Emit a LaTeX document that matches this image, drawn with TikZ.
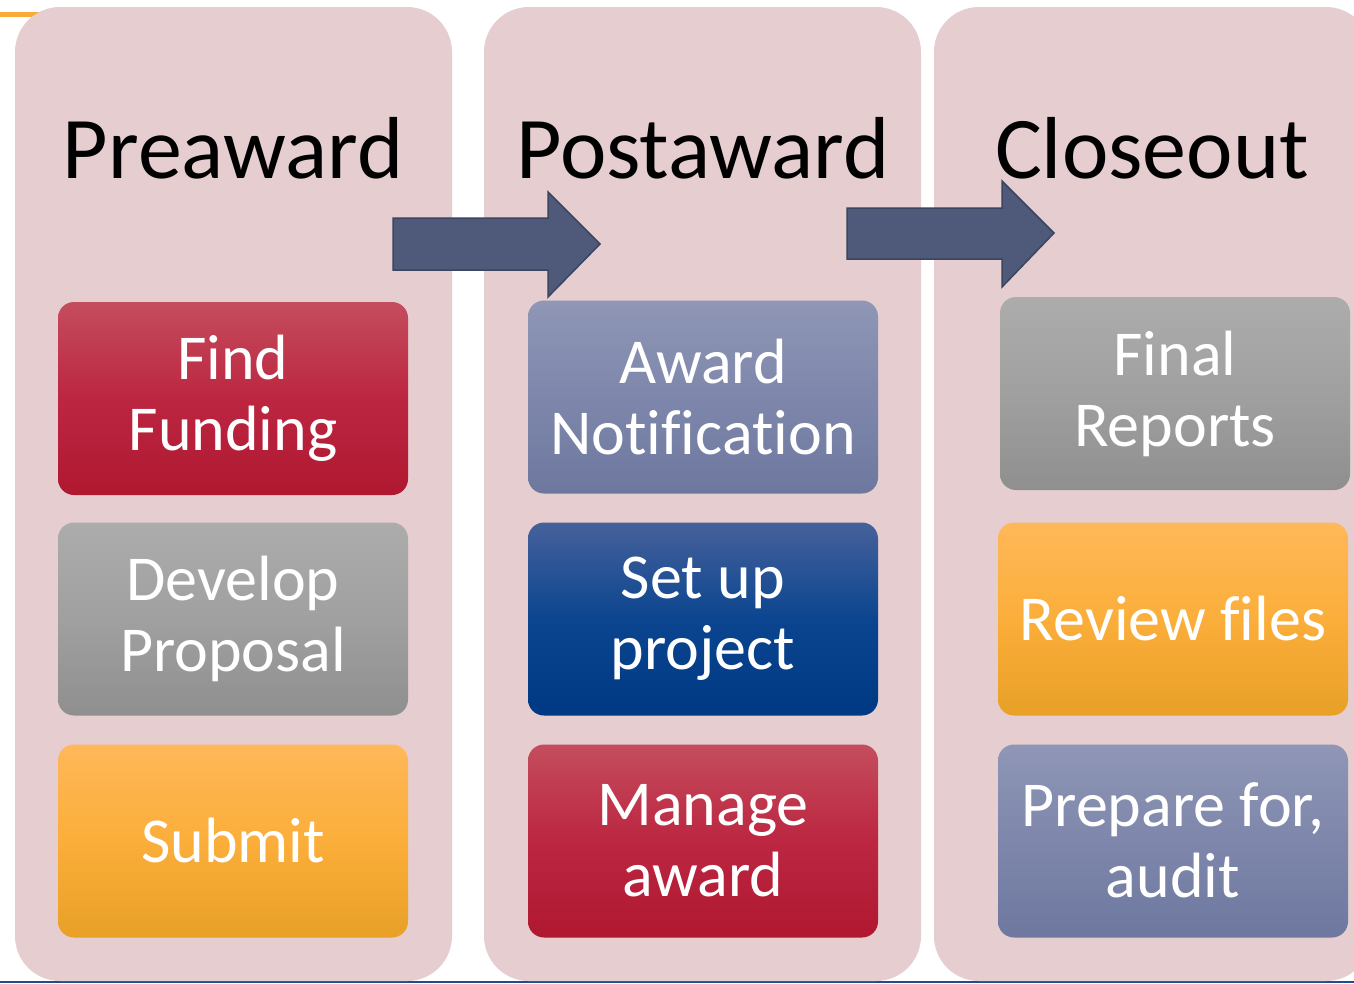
\documentclass[tikz,border=0pt]{standalone}
\usepackage{fontspec}
\setmainfont{Carlito}[Ligatures={NoCommon}]
\definecolor{panel}{HTML}{E5CDD0}
\definecolor{arrowfill}{HTML}{4F5A7A}
\definecolor{arrowline}{HTML}{3A4560}
\definecolor{redT}{HTML}{C44D5D}
\definecolor{redM}{HTML}{BC2641}
\definecolor{redB}{HTML}{B01830}
\definecolor{greyT}{HTML}{ACACAC}
\definecolor{greyM}{HTML}{A0A0A0}
\definecolor{greyB}{HTML}{8F8F8F}
\definecolor{orT}{HTML}{FFB85A}
\definecolor{orM}{HTML}{FBAE3A}
\definecolor{orB}{HTML}{E8A027}
\definecolor{slT}{HTML}{8F96B6}
\definecolor{slM}{HTML}{7E87AB}
\definecolor{slB}{HTML}{6E779E}
\definecolor{dbT}{HTML}{46619B}
\definecolor{dbM}{HTML}{0B458F}
\definecolor{dbB}{HTML}{003983}
\definecolor{topline}{HTML}{F9AC3A}
\definecolor{botline}{HTML}{1F4E8C}
\tikzset{
  panelbox/.style={fill=panel, draw=none, rounded corners=45pt},
  header/.style={anchor=base, text=black, font=\fontsize{88}{96}\selectfont, inner sep=0pt},
  stepbox/.style={rounded corners=16pt, draw=none, minimum width=350pt, minimum height=193pt,
    inner sep=0pt, text=white, align=center, font=\fontsize{64}{71}\selectfont},
  redbox/.style={stepbox, top color=redT, bottom color=redB, middle color=redM},
  greybox/.style={stepbox, top color=greyT, bottom color=greyB, middle color=greyM},
  orbox/.style={stepbox, top color=orT, bottom color=orB, middle color=orM},
  slbox/.style={stepbox, top color=slT, bottom color=slB, middle color=slM},
  dbbox/.style={stepbox, top color=dbT, bottom color=dbB, middle color=dbM},
  bigarrow/.style={fill=arrowfill, draw=arrowline, line width=1.5pt, line join=miter},
}
\begin{document}
\begin{tikzpicture}[x=1pt,y=-1pt]
\useasboundingbox (0,0) rectangle (1354,983);
\fill[white] (0,0) rectangle (1354,983);
% decorative lines
\draw[topline, line width=5pt] (0,14) -- (48,14);
\draw[botline, line width=2pt] (0,982) -- (1354,982);
% panels
\fill[panelbox] (15,7) rectangle (452,981);
\fill[panelbox] (484,7) rectangle (921,981);
\fill[panelbox] (934,7) rectangle (1371,981);
% headers
\node[header] (h1) at (233,178) {Preaward};
\node[header] (h2) at (703,178) {Postaward};
\node[header] (h3) at (1152,178) {Closeout};
% arrows
\draw[bigarrow] (393,218) -- (548,218) -- (548,192) -- (600,244) -- (548,297) -- (548,270) -- (393,270) -- cycle;
\draw[bigarrow] (847,208) -- (1002,208) -- (1002,181) -- (1054,233) -- (1002,287) -- (1002,259) -- (847,259) -- cycle;
% column 1
\node[redbox] (ff) at (233,398.5) {\raisebox{-3pt}{Find}\\\raisebox{-3pt}{Funding}};
\node[greybox] (dp) at (233,619) {\raisebox{-2pt}{Develop}\\\raisebox{-2pt}{Proposal}};
\node[orbox] (sb) at (233,841) {Submit};
% column 2
\node[slbox] (an) at (703,397) {\raisebox{1pt}{Award}\\\raisebox{1pt}{Notification}};
\node[dbbox] (sp) at (703,619) {\raisebox{-2pt}{Set up}\\\raisebox{-2pt}{project}};
\node[redbox] (ma) at (703,841) {Manage\\award};
% column 3
\node[greybox] (fr) at (1175,393.5) {Final\\Reports};
\node[orbox] (rf) at (1173,619) {Review files};
\node[slbox] (pa) at (1173,841) {\raisebox{2pt}{Prepare for,}\\\raisebox{2pt}{audit}};
\end{tikzpicture}
\end{document}
